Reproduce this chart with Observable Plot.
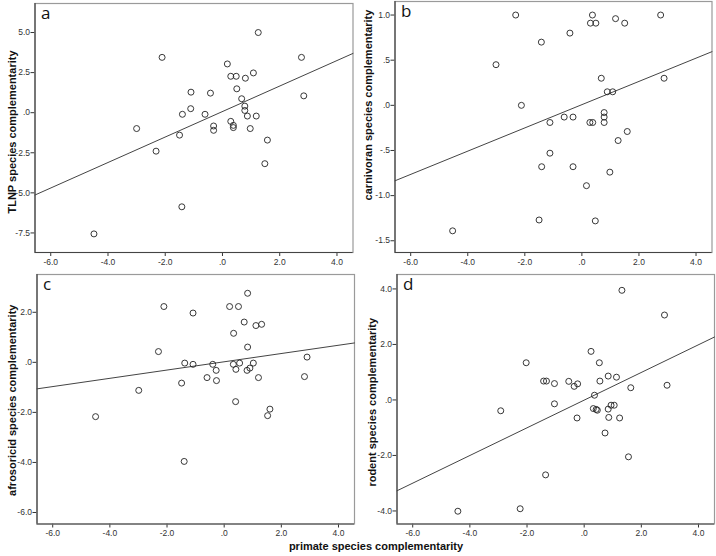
<!DOCTYPE html>
<html><head><meta charset="utf-8">
<script src="https://cdn.jsdelivr.net/npm/d3@7"></script>
<script src="https://cdn.jsdelivr.net/npm/@observablehq/plot@0.6"></script>
<style>
body{margin:0;background:#fff;}
#fig{position:relative;width:716px;height:556px;font-family:"Liberation Sans",Arial,sans-serif;overflow:hidden;}
#fig svg{position:absolute;overflow:visible;background:none;}
#xlabel{position:absolute;left:226px;width:300px;top:540px;text-align:center;font:bold 11px "Liberation Sans",Arial,sans-serif;line-height:12px;color:#111;}
</style></head><body><div id="fig"><div id="xlabel">primate species complementarity</div></div>
<script>
// ---- data ----
const xTicks = [-6, -4, -2, 0, 2, 4];
const xLabel = "primate species complementarity";

const aX = [1.25,-2.11,2.76,0.17,1.08,0.29,0.48,0.80,0.50,-1.10,-0.42,0.67,0.78,0.78,-1.11,-1.40,-0.61,0.87,1.18,0.29,-0.31,0.38,0.38,-0.31,-3.0,0.97,-1.50,1.57,-2.32,1.48,-1.42,-4.49,2.84];
const aY = [5.0,3.45,3.45,3.04,2.48,2.27,2.27,2.15,1.49,1.28,1.22,0.87,0.41,0.14,0.25,-0.1,-0.1,-0.21,-0.21,-0.54,-0.83,-0.79,-0.93,-1.10,-0.99,-0.99,-1.40,-1.71,-2.40,-3.18,-5.87,-7.56,1.05];
const aTicks = [-7.5, -5, -2.5, 0, 2.5, 5];

const bX = [-2.32,0.37,0.30,0.49,1.18,1.50,2.76,-0.42,-1.42,-3.01,0.68,2.88,0.89,1.08,-2.12,-0.62,-0.31,0.78,0.78,0.78,-1.12,0.28,0.38,1.59,1.27,-1.12,-1.41,-0.31,0.98,0.16,-1.50,0.47,-4.53];
const bY = [1.0,1.0,0.91,0.91,0.96,0.91,1.0,0.80,0.70,0.45,0.30,0.30,0.15,0.15,0.0,-0.13,-0.13,-0.08,-0.13,-0.19,-0.19,-0.19,-0.19,-0.29,-0.39,-0.53,-0.68,-0.68,-0.74,-0.89,-1.27,-1.28,-1.39];
const bTicks = [-1.5, -1, -0.5, 0, 0.5, 1];

const cX = [0.82,-2.11,0.19,0.50,-1.09,0.70,1.31,1.11,0.33,0.82,-2.30,2.90,-1.38,-1.09,-0.40,0.32,0.54,1.02,-0.28,0.41,0.90,0.80,-0.60,1.20,2.81,-0.27,-1.49,-2.99,0.40,1.60,1.52,-4.50,-1.40];
const cY = [2.76,2.23,2.23,2.23,1.97,1.61,1.52,1.47,1.16,0.61,0.43,0.21,-0.03,-0.08,-0.08,-0.08,-0.03,-0.03,-0.32,-0.28,-0.23,-0.32,-0.61,-0.61,-0.57,-0.73,-0.83,-1.12,-1.57,-1.87,-2.13,-2.17,-3.96];
const cTicks = [-6, -4, -2, 0, 2];

const dX = [1.32,2.81,0.24,-2.03,0.53,0.84,1.13,-1.42,-1.32,-0.54,0.55,-1.04,-0.23,-0.35,1.63,2.90,0.36,-1.04,-2.92,0.32,0.42,0.46,0.94,1.05,0.84,-0.25,0.86,1.24,0.73,1.55,-1.35,-2.24,-4.42];
const dY = [3.95,3.06,1.75,1.34,1.34,0.86,0.82,0.68,0.68,0.67,0.68,0.59,0.58,0.49,0.44,0.53,0.17,-0.14,-0.39,-0.31,-0.34,-0.37,-0.19,-0.19,-0.33,-0.65,-0.63,-0.65,-1.19,-2.05,-2.70,-3.92,-4.01];
const dTicks = [-4, -2, 0, 2, 4];

const letters = ["a", "b", "c", "d"];
const yLabels = ["TLNP species complementarity", "carnivoran species complementarity", "afrosoricid species complementarity", "rodent species complementarity"];

// ---- layout / style ----
const xDomain = [-6.55, 4.56];
const spss = d => { const s = d.toFixed(1); if (s === "0.0" || s === "-0.0") return ".0"; return s.replace(/^(-?)0\./, "$1."); };

const panels = [
  {x: aX, y: aY, ticks: aTicks, yDomain: [-8.72, 6.81], left: 0,   top: 0,   ml: 34.5, mr: 5.5, mt: 3, mb: 18,   ldx: -22.5, ldy: 4},
  {x: bX, y: bY, ticks: bTicks, yDomain: [-1.63, 1.15], left: 358, top: 0,   ml: 36.5, mr: 4.5, mt: 1, mb: 18,   ldx: -27,   ldy: -22},
  {x: cX, y: cY, ticks: cTicks, yDomain: [-6.46, 3.51], left: 0,   top: 270, ml: 36.5, mr: 4,   mt: 4, mb: 16.5, ldx: -24.5, ldy: 1},
  {x: dX, y: dY, ticks: dTicks, yDomain: [-4.47, 4.52], left: 358, top: 270, ml: 38.5, mr: 2,   mt: 4, mb: 16.5, ldx: -24.5, ldy: 3}
];

const fig = document.getElementById("fig");
panels.forEach((p, i) => {
  const data = p.x.map((v, k) => ({x: v, y: p.y[k]}));
  const mx = d3.mean(p.x), my = d3.mean(p.y);
  const slope = d3.sum(p.x, (v, k) => (v - mx) * (p.y[k] - my)) / d3.sum(p.x, v => (v - mx) ** 2);
  const icpt = my - slope * mx;
  const fit = xDomain.map(v => ({x: v, y: icpt + slope * v}));
  const svg = Plot.plot({
    width: 358, height: 270,
    marginLeft: p.ml, marginRight: p.mr, marginTop: p.mt, marginBottom: p.mb,
    style: {fontFamily: '"Liberation Sans", Arial, sans-serif', fontSize: "8.5px", color: "#333", background: "none", overflow: "visible"},
    x: {domain: xDomain, ticks: xTicks, tickFormat: spss, tickSize: 4, tickPadding: 2, label: null},
    y: {domain: p.yDomain, ticks: p.ticks, tickFormat: spss, tickSize: 4, tickPadding: 1, label: null},
    marks: [
      Plot.frame({stroke: "#9a9a9a", strokeWidth: 1.2}),
      Plot.ruleY([p.yDomain[0]], {stroke: "#444", strokeWidth: 1.2}),
      Plot.ruleX([xDomain[0]], {stroke: "#444", strokeWidth: 1.2}),
      Plot.line(fit, {x: "x", y: "y", stroke: "#444", strokeWidth: 1}),
      Plot.dot(data, {x: "x", y: "y", r: 3, stroke: "#222", strokeWidth: 0.9, fill: "none"}),
      Plot.text([letters[i]], {frameAnchor: "top-left", text: d => d, dx: 6, dy: 3, lineAnchor: "top", textAnchor: "start", fontSize: 17, fill: "#111", fontFamily: '"Open Sans", sans-serif'}),
      Plot.text([yLabels[i]], {frameAnchor: "left", text: d => d, rotate: -90, dx: p.ldx, dy: p.ldy, textAnchor: "middle", fontSize: 11, fontWeight: "bold", fill: "#111"})
    ]
  });
  svg.style.left = p.left + "px";
  svg.style.top = p.top + "px";
  fig.appendChild(svg);
});
</script>
</body></html>
